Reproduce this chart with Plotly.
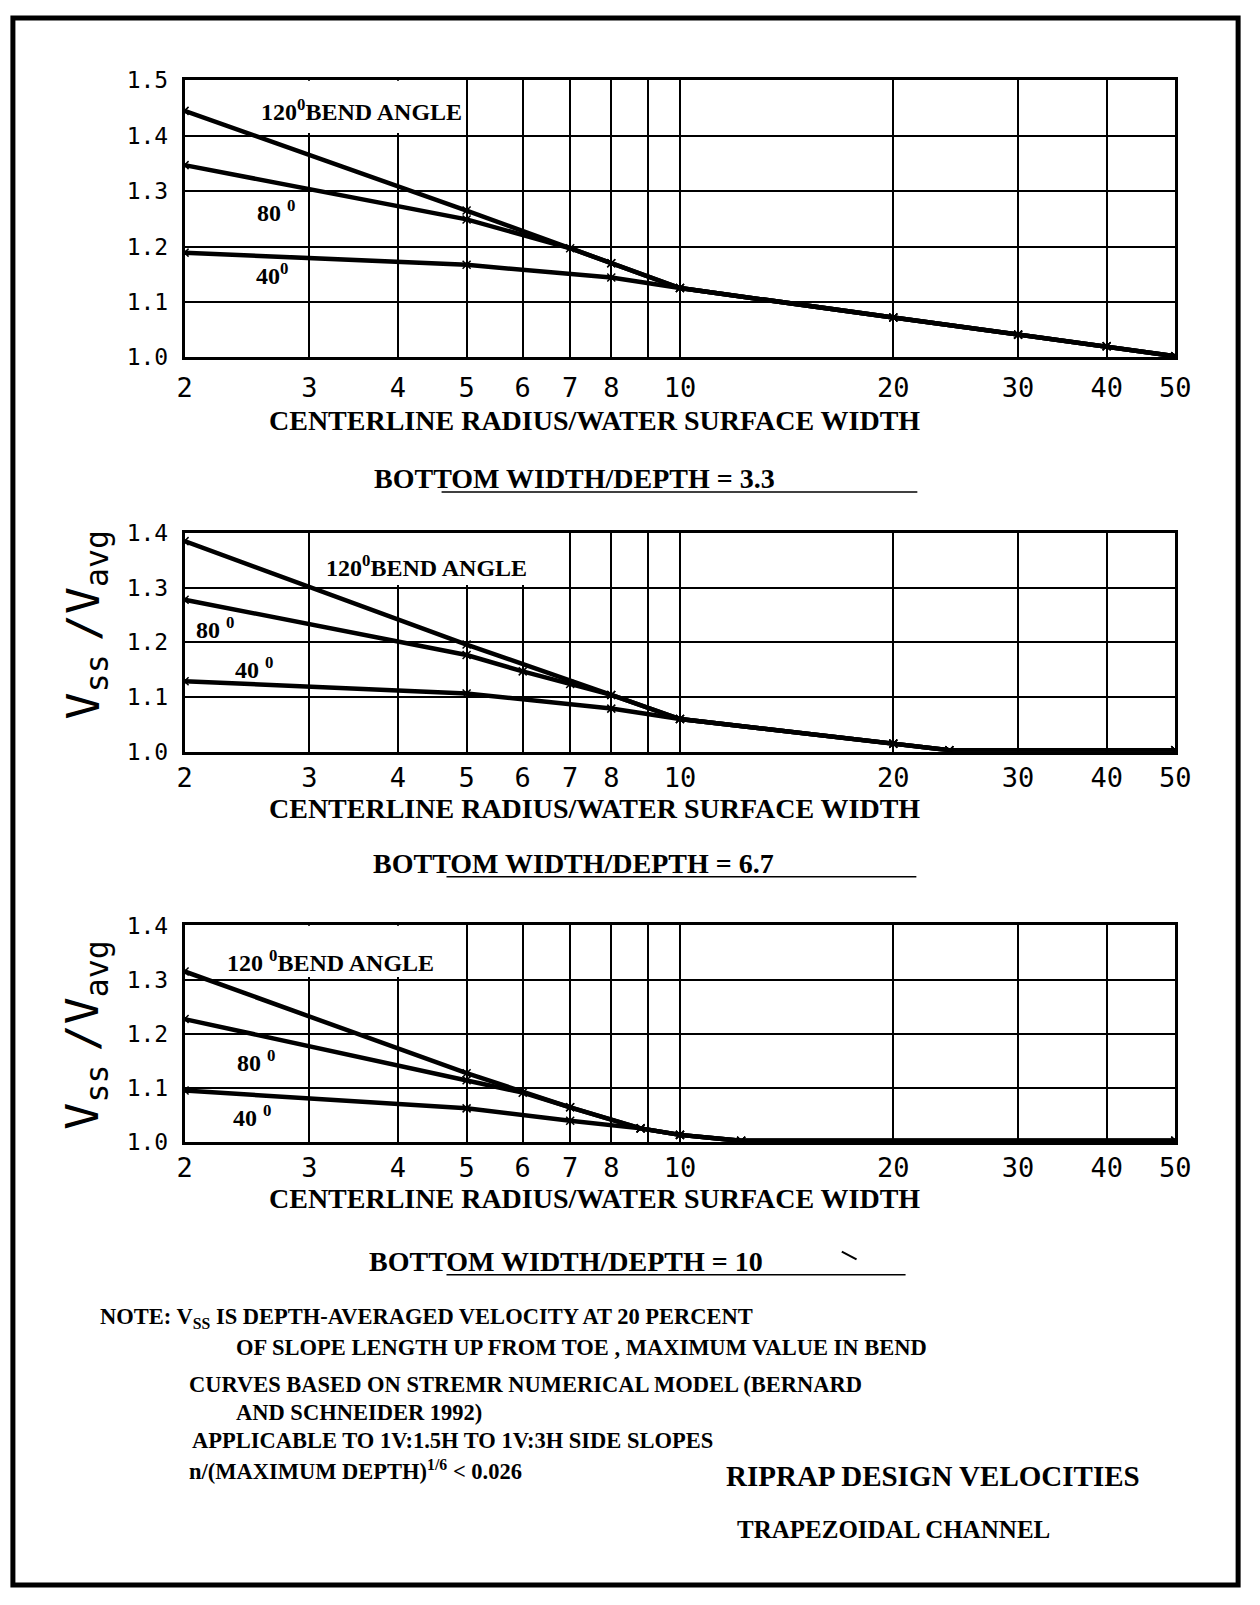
import numpy as np
import plotly.graph_objects as go

W, H = 1260, 1605

# ---------------- data ----------------
x_ticks = [2, 3, 4, 5, 6, 7, 8, 10, 20, 30, 40, 50]
x_ticktext = ["2", "3", "4", "5", "6", "7", "8", "10", "20", "30", "40", "50"]
x_minor = [9]

# Panel 1 : bottom width/depth = 3.3
top_x120 = [2, 5, 8, 10, 20, 30, 40, 50]
top_y120 = [1.445, 1.265, 1.170, 1.125, 1.072, 1.041, 1.020, 1.002]
top_x80 = [2, 5, 7, 8, 10, 20, 30, 40, 50]
top_y80 = [1.347, 1.249, 1.197, 1.170, 1.125, 1.072, 1.041, 1.020, 1.002]
top_x40 = [2, 5, 8, 10, 20, 30, 40, 50]
top_y40 = [1.189, 1.167, 1.144, 1.125, 1.072, 1.041, 1.020, 1.002]

# Panel 2 : bottom width/depth = 6.7
mid_x120 = [2, 5, 8, 10, 20, 24, 50]
mid_y120 = [1.385, 1.196, 1.104, 1.060, 1.015, 1.003, 1.003]
mid_x80 = [2, 5, 6, 7, 8, 10, 20, 24, 50]
mid_y80 = [1.278, 1.177, 1.147, 1.124, 1.104, 1.060, 1.015, 1.003, 1.003]
mid_x40 = [2, 5, 8, 10, 20, 24, 50]
mid_y40 = [1.129, 1.1065, 1.079, 1.060, 1.015, 1.003, 1.003]

# Panel 3 : bottom width/depth = 10
bot_x120 = [2, 5, 7, 8.8, 10, 12.2, 50]
bot_y120 = [1.315, 1.127, 1.064, 1.025, 1.013, 1.002, 1.002]
bot_x80 = [2, 5, 6, 7, 8.8, 10, 12.2, 50]
bot_y80 = [1.227, 1.114, 1.091, 1.064, 1.025, 1.013, 1.002, 1.002]
bot_x40 = [2, 5, 7, 8.8, 10, 12.2, 50]
bot_y40 = [1.095, 1.062, 1.039, 1.025, 1.013, 1.002, 1.002]

panel_ranges = [(1.0, 1.5), (1.0, 1.4), (1.0, 1.4)]
panel_titles = ["BOTTOM WIDTH/DEPTH = 3.3", "BOTTOM WIDTH/DEPTH = 6.7", "BOTTOM WIDTH/DEPTH = 10"]
x_title = "CENTERLINE RADIUS/WATER SURFACE WIDTH"
y_title = "V<sub>ss</sub><span style='font-size:22px'> </span>/V<sub>avg</sub>"

note_lines = [
    "NOTE: V<sub>SS</sub> IS DEPTH-AVERAGED VELOCITY AT 20 PERCENT",
    "OF SLOPE LENGTH UP FROM TOE , MAXIMUM VALUE IN BEND",
    "CURVES BASED ON STREMR NUMERICAL MODEL (BERNARD",
    "AND SCHNEIDER 1992)",
    "APPLICABLE TO 1V:1.5H TO 1V:3H SIDE SLOPES",
    "n/(MAXIMUM DEPTH)<sup>1/6</sup> &lt; 0.026",
]
main_title = "RIPRAP DESIGN VELOCITIES"
sub_title = "TRAPEZOIDAL CHANNEL"

# ---------------- helpers (layout in pixels -> paper) ----------------
def px(x):
    return x / W

def py(y):
    return 1 - y / H

SERIF = "Liberation Serif"
MONO = "DejaVu Sans Mono"

fig = go.Figure()

panels = [
    dict(top=68.5, bot=350, standoff=5, series=[(top_x120, top_y120), (top_x80, top_y80), (top_x40, top_y40)]),
    dict(top=528.5, bot=751, standoff=0, series=[(mid_x120, mid_y120), (mid_x80, mid_y80), (mid_x40, mid_y40)]),
    dict(top=927.5, bot=1147.5, standoff=0, series=[(bot_x120, bot_y120), (bot_x80, bot_y80), (bot_x40, bot_y40)]),
]

for i, p in enumerate(panels):
    n = "" if i == 0 else str(i + 1)
    xa, ya = "x" + n, "y" + n
    for xs, ys in p["series"]:
        fig.add_trace(go.Scatter(
            x=xs, y=ys, xaxis=xa, yaxis=ya, mode="lines+markers",
            line=dict(color="black", width=4.5),
            marker=dict(symbol="x-thin", size=8, line=dict(color="black", width=1.5)),
            hoverinfo="skip", showlegend=False,
        ))
    lo, hi = panel_ranges[i]
    fig.layout["xaxis" + n] = dict(
        type="log", range=[np.log10(2), np.log10(50)],
        domain=[px(180), px(1190)], anchor=ya,
        tickmode="array", tickvals=x_ticks, ticktext=x_ticktext,
        tickfont=dict(family=MONO, size=27, color="black"),
        ticks="", ticklabelstandoff=p["standoff"],
        showgrid=True, gridcolor="black", gridwidth=1.8,
        minor=dict(tickvals=x_minor, showgrid=True, gridcolor="black", gridwidth=1.8, ticks=""),
        showline=True, mirror=True, linecolor="black", linewidth=2.5,
        zeroline=False, fixedrange=True,
    )
    fig.layout["yaxis" + n] = dict(
        range=[lo, hi], domain=[py(p["bot"]), py(p["top"])], anchor=xa,
        dtick=0.1, tick0=1.0, tickformat=".1f",
        tickfont=dict(family=MONO, size=23, color="black"),
        ticks="", ticklabelstandoff=9,
        showgrid=True, gridcolor="black", gridwidth=1.8,
        showline=True, mirror=True, linecolor="black", linewidth=2.5,
        zeroline=False, fixedrange=True,
    )

# white boxes behind the "BEND ANGLE" labels (cover grid lines, below traces)
cover = [
    (0, 2.0, 4.85, 1.405, 1.5),
    (1, 3.1, 6.5, 1.305, 1.4),
    (2, 2.0, 4.85, 1.305, 1.4),
]
for i, x0, x1, y0, y1 in cover:
    n = "" if i == 0 else str(i + 1)
    fig.add_shape(type="rect", xref="x" + n, yref="y" + n, x0=x0, x1=x1, y0=y0, y1=y1,
                  fillcolor="white", line=dict(width=0), layer="between")

# curve labels
lab_font = dict(family=SERIF, size=24, color="black")
labels = [
    (0, 2.55, 1.447, "<b>120<sup>0</sup>BEND ANGLE</b>", "left"),
    (0, 2.69, 1.265, "<b>80 <sup>0</sup></b>", "center"),
    (0, 2.66, 1.151, "<b>40<sup>0</sup></b>", "center"),
    (1, 3.15, 1.340, "<b>120<sup>0</sup>BEND ANGLE</b>", "left"),
    (1, 2.21, 1.227, "<b>80 <sup>0</sup></b>", "center"),
    (1, 2.51, 1.153, "<b>40 <sup>0</sup></b>", "center"),
    (2, 2.28, 1.335, "<b>120 <sup>0</sup>BEND ANGLE</b>", "left"),
    (2, 2.52, 1.150, "<b>80 <sup>0</sup></b>", "center"),
    (2, 2.49, 1.048, "<b>40 <sup>0</sup></b>", "center"),
]
for i, xv, yv, txt, anc in labels:
    n = "" if i == 0 else str(i + 1)
    fig.add_annotation(xref="x" + n, yref="y" + n, x=np.log10(xv), y=yv, text=txt,
                       showarrow=False, xanchor=anc, yanchor="middle", font=lab_font)

# axis titles and panel titles
title_font = dict(family=SERIF, size=28, color="black")
for yc in [414, 809, 1205]:
    fig.add_annotation(xref="paper", yref="paper", x=px(598), y=py(yc), text="<b>" + x_title + "</b>",
                       showarrow=False, xanchor="center", yanchor="middle", font=title_font)

for (yc, xc), t, (ux0, ux1, uy) in zip(
        [(473, 577), (865, 576), (1269, 569)], panel_titles,
        [(442, 927, 487), (447, 926, 878), (447, 915, 1282.5)]):
    fig.add_annotation(xref="paper", yref="paper", x=px(xc), y=py(yc), text="<b>" + t + "</b>",
                       showarrow=False, xanchor="center", yanchor="middle", font=title_font)
    fig.add_shape(type="line", xref="paper", yref="paper", x0=px(ux0), x1=px(ux1), y0=py(uy), y1=py(uy),
                  line=dict(color="black", width=1.5))

# y axis titles (panels 2 and 3)
for yc in [622, 1039]:
    fig.add_annotation(xref="paper", yref="paper", x=px(79), y=py(yc), text=y_title, textangle=-90,
                       showarrow=False, xanchor="center", yanchor="middle",
                       font=dict(family=MONO, size=45, color="black"))

# notes
note_font = dict(family=SERIF, size=22.5, color="black")
for (xl, yc), t in zip([(92, 1326), (230, 1356), (182, 1394), (230, 1423), (186, 1451), (182, 1481)], note_lines):
    fig.add_annotation(xref="paper", yref="paper", x=px(xl), y=py(yc), text="<b>" + t + "</b>",
                       showarrow=False, xanchor="left", yanchor="middle", font=note_font)

fig.add_annotation(xref="paper", yref="paper", x=px(730), y=py(1487), text="<b>" + main_title + "</b>",
                   showarrow=False, xanchor="left", yanchor="middle",
                   font=dict(family=SERIF, size=29, color="black"))
fig.add_annotation(xref="paper", yref="paper", x=px(741), y=py(1541), text="<b>" + sub_title + "</b>",
                   showarrow=False, xanchor="left", yanchor="middle",
                   font=dict(family=SERIF, size=25, color="black"))

# page frame
fig.add_shape(type="rect", xref="paper", yref="paper", x0=px(5), x1=px(1254), y0=py(1598), y1=py(5),
              line=dict(color="black", width=5), fillcolor="rgba(0,0,0,0)", layer="above")
# small stray stroke near the last panel title
fig.add_shape(type="line", xref="paper", yref="paper", x0=px(850), x1=px(865), y0=py(1259), y1=py(1267),
              line=dict(color="black", width=2))

fig.update_layout(
    width=W, height=H, margin=dict(l=0, r=0, t=0, b=0),
    paper_bgcolor="white", plot_bgcolor="white", showlegend=False,
)

fig.write_html(
    "out.html",
    config={"displayModeBar": False},
    post_script="document.body.style.margin='0';document.body.style.padding='0';"
                "document.documentElement.style.overflow='hidden';",
)
